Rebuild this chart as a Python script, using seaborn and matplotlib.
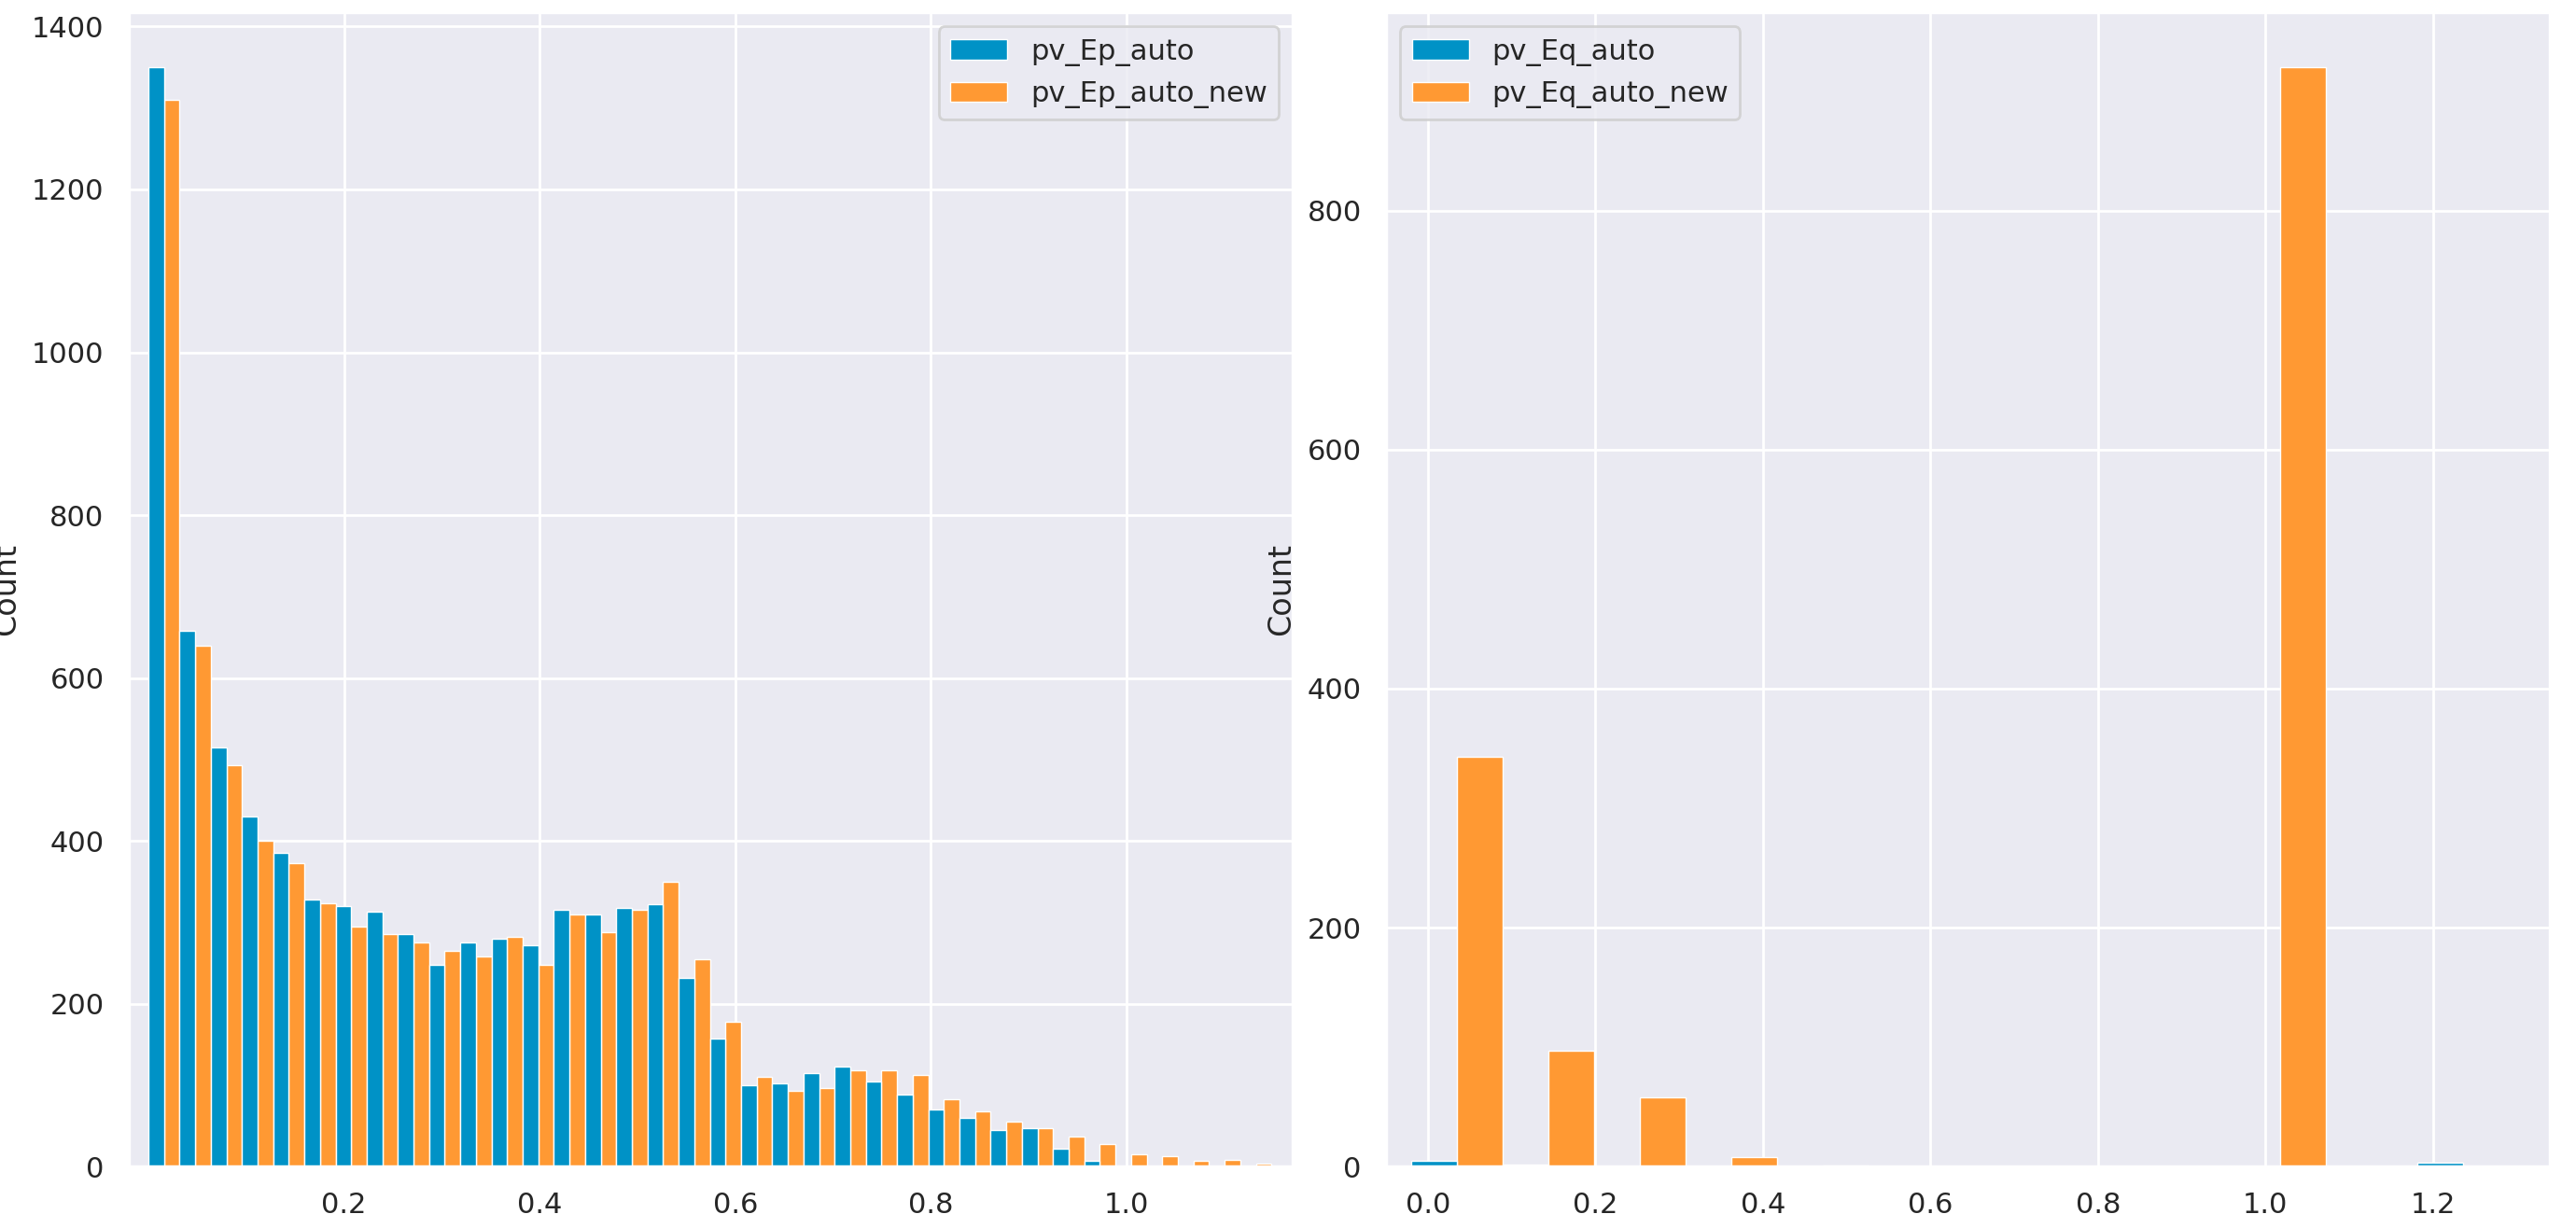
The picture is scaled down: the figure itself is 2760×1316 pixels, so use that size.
import numpy as np
import pandas as pd
import seaborn as sns
import matplotlib.pyplot as plt

sns.set_theme(style="darkgrid")

# Left panel
left_edges_max = 1.148
left_nbins = 36
ep_auto = [1350, 658, 515, 430, 385, 328, 320, 313, 285, 248, 275, 280, 272, 315, 310, 318,
           322, 232, 157, 100, 102, 115, 123, 105, 88, 70, 60, 45, 47, 22, 7, 0, 0, 0, 0, 0]
ep_auto_new = [1310, 640, 493, 400, 373, 323, 295, 285, 275, 265, 258, 282, 248, 310, 288, 315,
               350, 255, 178, 110, 93, 97, 118, 118, 113, 83, 68, 55, 47, 37, 28, 15, 13, 7, 8, 4]

# Right panel
right_edges_min, right_edges_max = -0.02, 1.29
right_nbins = 12
eq_auto = [5, 2, 0, 0, 0, 0, 0, 0, 0, 0, 0, 3]
eq_auto_new = [343, 97, 58, 8, 1, 0, 0, 0, 0, 920, 0, 0]

palette = ["#0092C6", "#FF9933"]


def make_df(edges, a, b, na, nb):
    centers = (edges[:-1] + edges[1:]) / 2
    return pd.DataFrame({
        "x": np.concatenate([centers, centers]),
        "w": np.concatenate([a, b]).astype(float),
        "series": [na] * len(centers) + [nb] * len(centers),
    })


fig, axes = plt.subplots(1, 2, figsize=(13.8, 6.58), dpi=200)

le = np.linspace(0, left_edges_max, left_nbins + 1)
dl = make_df(le, ep_auto, ep_auto_new, "pv_Ep_auto", "pv_Ep_auto_new")
sns.histplot(data=dl, x="x", weights="w", hue="series", bins=left_nbins,
             binrange=(0, left_edges_max), multiple="dodge",
             palette=palette, alpha=1, edgecolor="white", linewidth=0.5, ax=axes[0])
axes[0].set_xlabel("")
axes[0].set_xlim(-0.02, 1.17)
axes[0].set_xticks([0.2, 0.4, 0.6, 0.8, 1.0])
sns.move_legend(axes[0], "upper right", title=None)

re = np.linspace(right_edges_min, right_edges_max, right_nbins + 1)
dr = make_df(re, eq_auto, eq_auto_new, "pv_Eq_auto", "pv_Eq_auto_new")
sns.histplot(data=dr, x="x", weights="w", hue="series", bins=right_nbins,
             binrange=(right_edges_min, right_edges_max), multiple="dodge",
             palette=palette, alpha=1, edgecolor="white", linewidth=0.5, ax=axes[1])
axes[1].set_xlabel("")
axes[1].set_xlim(-0.05, 1.34)
axes[1].set_xticks([0.0, 0.2, 0.4, 0.6, 0.8, 1.0, 1.2])
sns.move_legend(axes[1], "upper left", title=None)

plt.subplots_adjust(left=0.05, right=0.99, top=0.99, bottom=0.05, wspace=0.08)
fig.savefig("out.png")
